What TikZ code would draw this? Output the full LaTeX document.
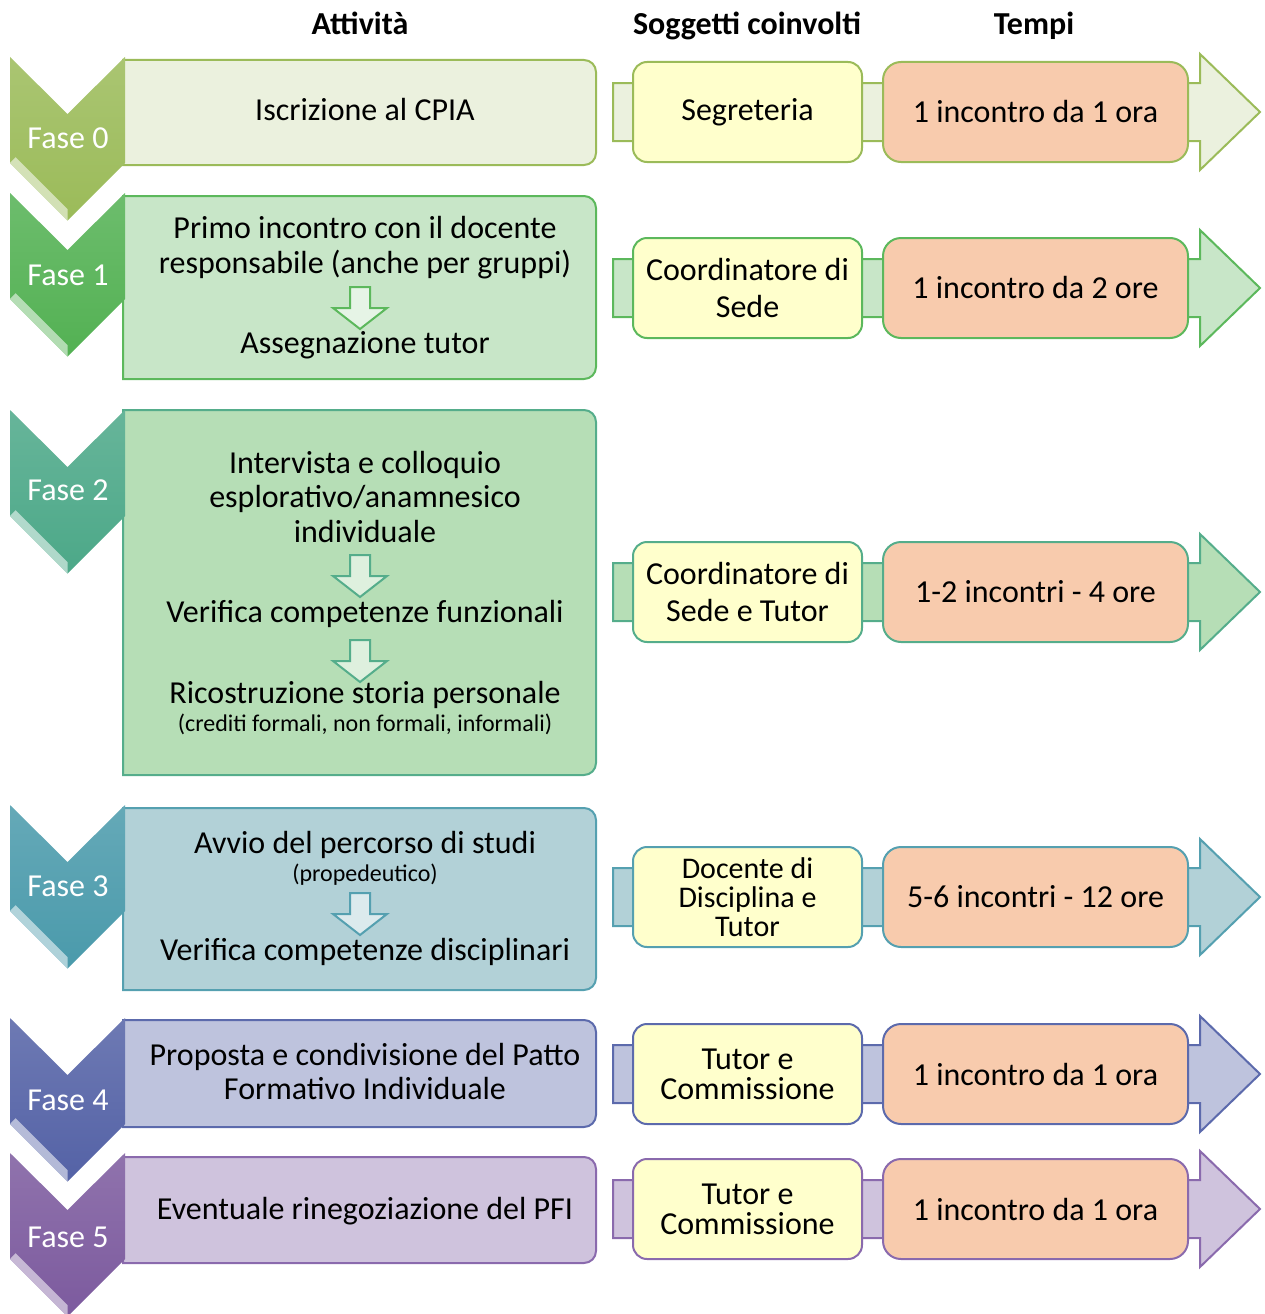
\documentclass[tikz,border=0pt]{standalone}
\usepackage{fontspec}
\setmainfont{Carlito}
\usetikzlibrary{positioning}

\definecolor{edge0}{HTML}{9BBB59}\definecolor{act0}{HTML}{EBF1DE}\definecolor{chev0}{HTML}{9BBB59}
\definecolor{edge1}{HTML}{5CB85C}\definecolor{act1}{HTML}{C8E6C8}\definecolor{chev1}{HTML}{53B153}
\definecolor{edge2}{HTML}{55AD8B}\definecolor{act2}{HTML}{B6DEB6}\definecolor{chev2}{HTML}{4CA888}
\definecolor{edge3}{HTML}{55A0B0}\definecolor{act3}{HTML}{B2D1D7}\definecolor{chev3}{HTML}{4A9AAB}
\definecolor{edge4}{HTML}{5C6AAC}\definecolor{act4}{HTML}{BEC3DD}\definecolor{chev4}{HTML}{5462A6}
\definecolor{edge5}{HTML}{8A6AAD}\definecolor{act5}{HTML}{CFC3DD}\definecolor{chev5}{HTML}{7C5A9E}
\definecolor{whofill}{HTML}{FFFFCC}
\definecolor{timefill}{HTML}{F8CBAD}

\begin{document}
\begin{tikzpicture}[x=1pt, y=-1pt,
  txt/.style = {font=\fontsize{32}{37}\selectfont, inner sep=0pt, anchor=base},
  note/.style = {font=\fontsize{24}{27}\selectfont, inner sep=0pt, anchor=base},
  heading/.style = {font=\fontsize{32}{37}\selectfont\bfseries, inner sep=0pt, anchor=base},
  faselabel/.style = {font=\fontsize{32}{37}\selectfont, text=white, inner sep=0pt, anchor=base},
  whobox/.style = {draw, line width=2, fill=whofill, rounded corners=14, minimum width=229,
    minimum height=100, align=center, inner sep=0pt, font=\fontsize{32}{37}\selectfont},
  timebox/.style = {draw, line width=2, fill=timefill, rounded corners=18, minimum width=305,
    minimum height=100, inner sep=0pt, font=\fontsize{32}{37}\selectfont},
  actbox/.style = {line width=2},
  band/.style = {line width=2},
  bevel/.style = {fill=white, fill opacity=0.55},
  downarr/.style = {line width=2}]
  \useasboundingbox (0,0) rectangle (1264,1314);

  %column headings
  \node[heading] (h1) at (360,35) {Attività};
  \node[heading] (h2) at (747,35) {Soggetti coinvolti};
  \node[heading] (h3) at (1034,35) {Tempi};

  %Fase 0
  \draw[actbox, draw=edge0, fill=act0] (123,165) -- (123,60) [rounded corners=12] -- (596,60) -- (596,165) [sharp corners] -- cycle;
  \shade[top color=chev0!85!white, bottom color=chev0] (10,57) -- ++(57.5,57) -- ++(57.5,-57) -- ++(0,106) -- ++(-57.5,57.5) -- ++(-57.5,-57.5) -- cycle;
  \fill[bevel] (10,163) -- ++(57.5,57.5) -- ++(0,-11.5) -- ++(-51.8,-51.8) -- cycle;
  \node[faselabel] (f0) at (68,148) {Fase 0};
  \node[txt] (a0) at (365,120) {Iscrizione al CPIA};
  \draw[band, draw=edge0, fill=act0] (613,83) -- ++(587,0) -- ++(0,-29) -- ++(60,58) -- ++(-60,58) -- ++(0,-29) -- ++(-587,0) -- cycle;
  \node[whobox, draw=edge0] (s0) at (747.5,112) {Segreteria};
  \node[timebox, draw=edge0] (t0) at (1035.5,112) {1 incontro da 1 ora};

  %Fase 1
  \draw[actbox, draw=edge1, fill=act1] (123,379) -- (123,196) [rounded corners=12] -- (596,196) -- (596,379) [sharp corners] -- cycle;
  \shade[top color=chev1!85!white, bottom color=chev1] (10,193) -- ++(57.5,57) -- ++(57.5,-57) -- ++(0,106) -- ++(-57.5,57.5) -- ++(-57.5,-57.5) -- cycle;
  \fill[bevel] (10,299) -- ++(57.5,57.5) -- ++(0,-11.5) -- ++(-51.8,-51.8) -- cycle;
  \node[faselabel] (f1) at (68,285) {Fase 1};
  \node[txt] (a1a) at (365,238) {Primo incontro con il docente};
  \node[txt] (a1b) at (365,273) {responsabile (anche per gruppi)};
  \draw[downarr, draw=edge1, fill=act1!45!white] (360,287) ++(-10,0) -- ++(20,0) -- ++(0,21) -- ++(17,0) -- ++(-27,21) -- ++(-27,-21) -- ++(17,0) -- cycle;
  \node[txt] (a1c) at (365,353) {Assegnazione tutor};
  \draw[band, draw=edge1, fill=act1] (613,259) -- ++(587,0) -- ++(0,-29) -- ++(60,58) -- ++(-60,58) -- ++(0,-29) -- ++(-587,0) -- cycle;
  \node[whobox, draw=edge1] (s1) at (747.5,288) {Coordinatore di\\Sede};
  \node[timebox, draw=edge1] (t1) at (1035.5,288) {1 incontro da 2 ore};

  %Fase 2
  \draw[actbox, draw=edge2, fill=act2] (123,775) -- (123,410) [rounded corners=12] -- (596,410) -- (596,775) [sharp corners] -- cycle;
  \shade[top color=chev2!85!white, bottom color=chev2] (10,410) -- ++(57.5,57) -- ++(57.5,-57) -- ++(0,106) -- ++(-57.5,57.5) -- ++(-57.5,-57.5) -- cycle;
  \fill[bevel] (10,516) -- ++(57.5,57.5) -- ++(0,-11.5) -- ++(-51.8,-51.8) -- cycle;
  \node[faselabel] (f2) at (68,500) {Fase 2};
  \node[txt] (a2a) at (365,473) {Intervista e colloquio};
  \node[txt] (a2b) at (365,507) {esplorativo/anamnesico};
  \node[txt] (a2c) at (365,542) {individuale};
  \draw[downarr, draw=edge2, fill=act2!45!white] (360,555) ++(-10,0) -- ++(20,0) -- ++(0,21) -- ++(17,0) -- ++(-27,21) -- ++(-27,-21) -- ++(17,0) -- cycle;
  \node[txt] (a2d) at (365,622) {Verifica competenze funzionali};
  \draw[downarr, draw=edge2, fill=act2!45!white] (360,640) ++(-10,0) -- ++(20,0) -- ++(0,21) -- ++(17,0) -- ++(-27,21) -- ++(-27,-21) -- ++(17,0) -- cycle;
  \node[txt] (a2e) at (365,703) {Ricostruzione storia personale};
  \node[note] (a2f) at (365,731) {(crediti formali, non formali, informali)};
  \draw[band, draw=edge2, fill=act2] (613,563) -- ++(587,0) -- ++(0,-29) -- ++(60,58) -- ++(-60,58) -- ++(0,-29) -- ++(-587,0) -- cycle;
  \node[whobox, draw=edge2] (s2) at (747.5,592) {Coordinatore di\\Sede e Tutor};
  \node[timebox, draw=edge2] (t2) at (1035.5,592) {1-2 incontri - 4 ore};

  %Fase 3
  \draw[actbox, draw=edge3, fill=act3] (123,990) -- (123,808) [rounded corners=12] -- (596,808) -- (596,990) [sharp corners] -- cycle;
  \shade[top color=chev3!85!white, bottom color=chev3] (10,805) -- ++(57.5,57) -- ++(57.5,-57) -- ++(0,106) -- ++(-57.5,57.5) -- ++(-57.5,-57.5) -- cycle;
  \fill[bevel] (10,911) -- ++(57.5,57.5) -- ++(0,-11.5) -- ++(-51.8,-51.8) -- cycle;
  \node[faselabel] (f3) at (68,896) {Fase 3};
  \node[txt] (a3a) at (365,853) {Avvio del percorso di studi};
  \node[note] (a3b) at (365,881) {(propedeutico)};
  \draw[downarr, draw=edge3, fill=act3!45!white] (360,893) ++(-10,0) -- ++(20,0) -- ++(0,21) -- ++(17,0) -- ++(-27,21) -- ++(-27,-21) -- ++(17,0) -- cycle;
  \node[txt] (a3c) at (365,960) {Verifica competenze disciplinari};
  \draw[band, draw=edge3, fill=act3] (613,868) -- ++(587,0) -- ++(0,-29) -- ++(60,58) -- ++(-60,58) -- ++(0,-29) -- ++(-587,0) -- cycle;
  \node[whobox, draw=edge3, font=\fontsize{30}{29}\selectfont] (s3) at (747.5,897) {Docente di\\Disciplina e\\Tutor};
  \node[timebox, draw=edge3] (t3) at (1035.5,897) {5-6 incontri - 12 ore};

  %Fase 4
  \draw[actbox, draw=edge4, fill=act4] (123,1127) -- (123,1020) [rounded corners=12] -- (596,1020) -- (596,1127) [sharp corners] -- cycle;
  \shade[top color=chev4!85!white, bottom color=chev4] (10,1018) -- ++(57.5,57) -- ++(57.5,-57) -- ++(0,106) -- ++(-57.5,57.5) -- ++(-57.5,-57.5) -- cycle;
  \fill[bevel] (10,1124) -- ++(57.5,57.5) -- ++(0,-11.5) -- ++(-51.8,-51.8) -- cycle;
  \node[faselabel] (f4) at (68,1110) {Fase 4};
  \node[txt] (a4a) at (365,1065) {Proposta e condivisione del Patto};
  \node[txt] (a4b) at (365,1099) {Formativo Individuale};
  \draw[band, draw=edge4, fill=act4] (613,1045) -- ++(587,0) -- ++(0,-29) -- ++(60,58) -- ++(-60,58) -- ++(0,-29) -- ++(-587,0) -- cycle;
  \node[whobox, draw=edge4, font=\fontsize{32}{30}\selectfont] (s4) at (747.5,1074) {Tutor e\\Commissione};
  \node[timebox, draw=edge4] (t4) at (1035.5,1074) {1 incontro da 1 ora};

  %Fase 5
  \draw[actbox, draw=edge5, fill=act5] (123,1263) -- (123,1157) [rounded corners=12] -- (596,1157) -- (596,1263) [sharp corners] -- cycle;
  \shade[top color=chev5!85!white, bottom color=chev5] (10,1153) -- ++(57.5,57) -- ++(57.5,-57) -- ++(0,106) -- ++(-57.5,57.5) -- ++(-57.5,-57.5) -- cycle;
  \fill[bevel] (10,1259) -- ++(57.5,57.5) -- ++(0,-11.5) -- ++(-51.8,-51.8) -- cycle;
  \node[faselabel] (f5) at (68,1247) {Fase 5};
  \node[txt] (a5a) at (365,1219) {Eventuale rinegoziazione del PFI};
  \draw[band, draw=edge5, fill=act5] (613,1180) -- ++(587,0) -- ++(0,-29) -- ++(60,58) -- ++(-60,58) -- ++(0,-29) -- ++(-587,0) -- cycle;
  \node[whobox, draw=edge5, font=\fontsize{32}{30}\selectfont] (s5) at (747.5,1209) {Tutor e\\Commissione};
  \node[timebox, draw=edge5] (t5) at (1035.5,1209) {1 incontro da 1 ora};
\end{tikzpicture}
\end{document}
